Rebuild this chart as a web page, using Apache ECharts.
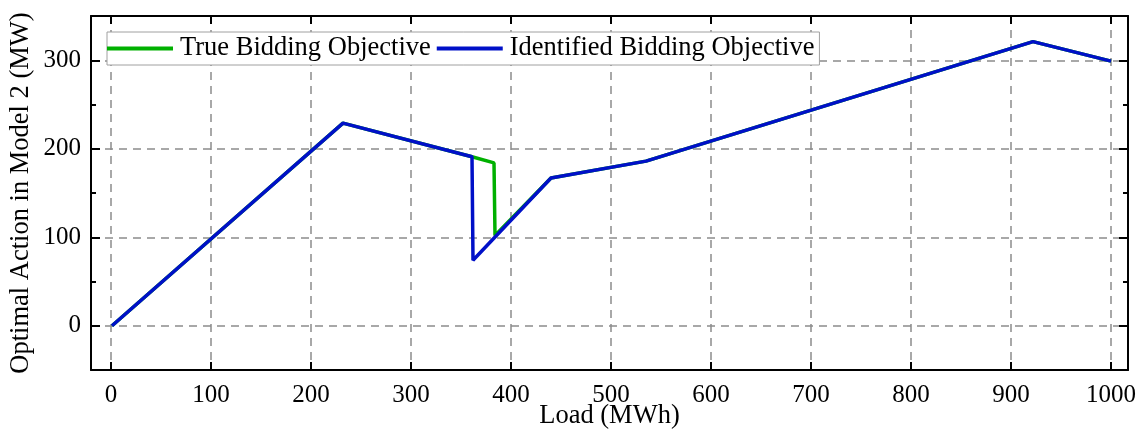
<!DOCTYPE html>
<html>
<head>
<meta charset="utf-8">
<script src="https://cdn.jsdelivr.net/npm/echarts@6/dist/echarts.min.js"></script>
<style>
html,body{margin:0;padding:0;background:#fff;}
#chart{width:1139px;height:430px;}
</style>
</head>
<body>
<div id="chart"></div>
<script>
// Data
const loadTrue   = [1, 232, 361, 383, 384, 440, 535, 922, 1000];
const actionTrue = [0, 229, 191, 184, 102, 167, 186, 321, 299];
const loadIdent   = [1, 232, 361, 362, 440, 535, 922, 1000];
const actionIdent = [0, 229, 191, 74, 167, 186, 321, 299];
const seriesNames = ['True Bidding Objective', 'Identified Bidding Objective'];
const xTitle = 'Load (MWh)';
const yTitle = 'Optimal Action in Model 2 (MW)';

const FONT = '"Liberation Serif", "Times New Roman", serif';
const pairs = (xs, ys) => xs.map((x, i) => [x, ys[i]]);

const chart = echarts.init(document.getElementById('chart'), null, {renderer: 'canvas'});

const gridLine = {show: true, lineStyle: {color: '#8c8c8c', width: 1.5, type: [8, 6]}};
const axisLine = {show: true, onZero: false, lineStyle: {color: '#000', width: 2}};
const hundredOnly = v => (Math.abs(v % 100) < 1e-6 ? String(v) : '');

chart.setOption({
  animation: false,
  backgroundColor: '#fff',
  grid: {left: 91, right: 11, top: 16, bottom: 60, containLabel: false, outerBoundsMode: 'none'},
  legend: {
    left: 107, top: 32,
    orient: 'horizontal',
    backgroundColor: '#fff',
    borderColor: '#a0a0a0', borderWidth: 1,
    padding: [3, 5, 3, 0],
    itemGap: 6,
    itemWidth: 66, itemHeight: 4,
    icon: 'rect',
    textStyle: {fontFamily: FONT, fontSize: 26.5, color: '#000', padding: [0, 0, 0, 2]},
    data: seriesNames
  },
  xAxis: [{
    type: 'value', min: -20, max: 1017, splitNumber: 10,
    position: 'bottom',
    name: xTitle, nameLocation: 'middle', nameGap: 33, nameMoveOverlap: false,
    nameTextStyle: {fontFamily: FONT, fontSize: 26.5, color: '#000'},
    axisLine: axisLine,
    axisTick: {show: true, inside: true, length: 8, lineStyle: {color: '#000', width: 2}},
    axisLabel: {fontFamily: FONT, fontSize: 25, color: '#000', margin: 13, formatter: hundredOnly, showMinLabel: false, showMaxLabel: false},
    splitLine: gridLine
  }, {
    type: 'value', min: -20, max: 1017, splitNumber: 10,
    position: 'top',
    axisLine: axisLine,
    axisTick: {show: true, inside: true, length: 8, lineStyle: {color: '#000', width: 2}},
    axisLabel: {show: false},
    splitLine: {show: false}
  }],
  yAxis: [{
    type: 'value', min: -50, max: 350, splitNumber: 4,
    position: 'left',
    name: yTitle, nameLocation: 'middle', nameGap: 56, nameMoveOverlap: false,
    nameTextStyle: {fontFamily: FONT, fontSize: 26.5, color: '#000'},
    axisLine: axisLine,
    axisTick: {show: true, inside: true, length: 9, lineStyle: {color: '#000', width: 2}},
    minorTick: {show: true, splitNumber: 2, length: 5, lineStyle: {color: '#000', width: 2}},
    axisLabel: {fontFamily: FONT, fontSize: 25, color: '#000', margin: 10, formatter: hundredOnly, showMinLabel: false, showMaxLabel: false},
    splitLine: gridLine
  }, {
    type: 'value', min: -50, max: 350, splitNumber: 4,
    position: 'right',
    axisLine: axisLine,
    axisTick: {show: true, inside: true, length: 9, lineStyle: {color: '#000', width: 2}},
    minorTick: {show: true, splitNumber: 2, length: 5, lineStyle: {color: '#000', width: 2}},
    axisLabel: {show: false},
    splitLine: {show: false}
  }],
  series: [{
    name: seriesNames[0], type: 'line',
    xAxisIndex: 0, yAxisIndex: 0,
    data: pairs(loadTrue, actionTrue),
    showSymbol: false, symbol: 'none',
    lineStyle: {color: '#00b000', width: 3.5},
    itemStyle: {color: '#00b000'},
    z: 2
  }, {
    name: seriesNames[1], type: 'line',
    xAxisIndex: 0, yAxisIndex: 0,
    data: pairs(loadIdent, actionIdent),
    showSymbol: false, symbol: 'none',
    lineStyle: {color: '#0010c8', width: 3.5},
    itemStyle: {color: '#0010c8'},
    z: 3
  }]
});
</script>
</body>
</html>
